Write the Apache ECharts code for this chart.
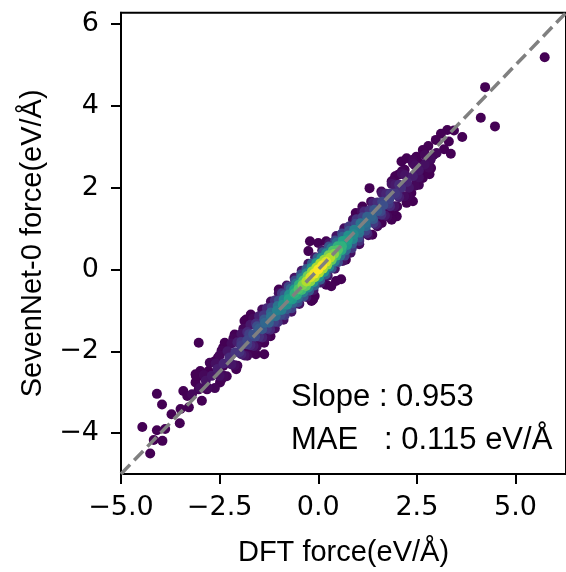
<!DOCTYPE html>
<html><head><meta charset="utf-8">
<script src="https://cdn.jsdelivr.net/npm/echarts@6/dist/echarts.min.js"></script>
<style>html,body{margin:0;padding:0;background:#fff}#c{width:566px;height:572px}</style>
</head><body><div id="c"></div>
<script>
// ---- axis ticks / labels ----
const xTicks = [-5, -2.5, 0, 2.5, 5];
const yTicks = [-4, -2, 0, 2, 4, 6];
const axisMin = -5;
const axisMax = 6.28;
const xName = 'DFT force(eV/Å)';
const yName = 'SevenNet-0 force(eV/Å)';
const slopeText = 'Slope : 0.953';
const maeText = 'MAE   : 0.115 eV/Å';

// ---- points: [DFT force, SevenNet-0 force, relative density] ----
const coreStrand = [
 [-3.2,-3.05,0.02],[-3.0,-2.9,0.03],[-2.85,-2.72,0.05],[-2.7,-2.6,0.06],[-2.55,-2.43,0.08],[-2.4,-2.3,0.1],
 [-2.25,-2.15,0.12],[-2.1,-2.02,0.15],[-1.95,-1.86,0.18],[-1.8,-1.73,0.21],[-1.65,-1.58,0.25],[-1.5,-1.44,0.29],
 [-1.35,-1.3,0.33],[-1.2,-1.15,0.38],[-1.05,-1.0,0.43],[-0.9,-0.86,0.5],[-0.75,-0.72,0.57],[-0.6,-0.58,0.65],
 [-0.5,-0.48,0.72],[-0.4,-0.38,0.8],[-0.3,-0.29,0.88],[-0.2,-0.19,0.94],[-0.1,-0.1,0.98],[0,0,1],
 [0.1,0.1,0.99],[0.2,0.19,0.95],[0.3,0.29,0.89],[0.4,0.38,0.81],[0.5,0.48,0.72],[0.6,0.57,0.64],
 [0.75,0.72,0.55],[0.9,0.86,0.48],[1.05,1.0,0.42],[1.2,1.14,0.37],[1.35,1.29,0.32],[1.5,1.43,0.28],
 [1.65,1.57,0.24],[1.8,1.72,0.2],[1.95,1.86,0.16],[2.1,2.0,0.13],[2.25,2.14,0.1],[2.4,2.28,0.08],
 [2.55,2.42,0.06],[2.7,2.57,0.04],[2.85,2.7,0.03],[3.0,2.85,0.02]
];
const upperNear = [
 [-1.95,-1.77,0.15],[-1.75,-1.58,0.19],[-1.55,-1.39,0.24],[-1.37,-1.22,0.28],[-1.2,-1.05,0.33],[-1.03,-0.89,0.38],
 [-0.88,-0.74,0.44],[-0.74,-0.61,0.5],[-0.61,-0.49,0.56],[-0.49,-0.37,0.63],[-0.38,-0.27,0.7],[-0.27,-0.16,0.77],
 [-0.16,-0.05,0.83],[-0.05,0.05,0.87],[0.05,0.15,0.87],[0.15,0.24,0.84],[0.26,0.35,0.79],[0.37,0.46,0.72],
 [0.49,0.57,0.64],[0.62,0.7,0.57],[0.76,0.83,0.5],[0.91,0.97,0.43],[1.07,1.13,0.37],[1.24,1.29,0.31],
 [1.42,1.46,0.26],[1.62,1.66,0.21],[1.83,1.86,0.16],[2.05,2.07,0.12]
];
const lowerNear = [
 [-2.0,-2.02,0.14],[-1.8,-1.83,0.18],[-1.6,-1.64,0.22],[-1.42,-1.46,0.27],[-1.25,-1.3,0.31],[-1.08,-1.14,0.36],
 [-0.93,-0.99,0.42],[-0.79,-0.86,0.48],[-0.66,-0.73,0.54],[-0.54,-0.62,0.61],[-0.42,-0.5,0.68],[-0.31,-0.4,0.75],
 [-0.2,-0.29,0.82],[-0.09,-0.19,0.86],[0.02,-0.08,0.88],[0.12,0.02,0.86],[0.23,0.12,0.82],[0.34,0.23,0.75],
 [0.46,0.34,0.67],[0.59,0.47,0.6],[0.73,0.6,0.52],[0.88,0.74,0.45],[1.04,0.9,0.39],[1.21,1.06,0.33],
 [1.39,1.23,0.28],[1.58,1.42,0.22],[1.78,1.61,0.17],[2.0,1.82,0.13]
];
const upperInner = [
 [-2.9,-2.58,0.02],[-2.6,-2.3,0.04],[-2.3,-2.0,0.06],[-2.05,-1.78,0.08],[-1.8,-1.53,0.11],[-1.58,-1.32,0.13],
 [-1.38,-1.12,0.16],[-1.18,-0.93,0.2],[-1.0,-0.76,0.24],[-0.85,-0.62,0.28],[-0.7,-0.47,0.33],[-0.56,-0.34,0.38],
 [-0.43,-0.21,0.43],[-0.3,-0.09,0.47],[-0.17,0.04,0.5],[-0.05,0.16,0.52],[0.08,0.28,0.5],[0.2,0.4,0.47],
 [0.33,0.52,0.42],[0.47,0.66,0.36],[0.62,0.8,0.31],[0.78,0.95,0.26],[0.95,1.12,0.22],[1.12,1.28,0.19],
 [1.3,1.45,0.16],[1.5,1.64,0.13],[1.72,1.85,0.1],[1.95,2.07,0.07],[2.2,2.31,0.05],[2.45,2.55,0.03],[2.7,2.8,0.02]
];
const lowerInner = [
 [-2.8,-2.89,0.02],[-2.5,-2.6,0.04],[-2.2,-2.32,0.06],[-1.95,-2.07,0.09],[-1.72,-1.85,0.11],[-1.5,-1.64,0.14],
 [-1.3,-1.45,0.17],[-1.12,-1.28,0.2],[-0.95,-1.11,0.23],[-0.8,-0.97,0.27],[-0.65,-0.82,0.32],[-0.52,-0.7,0.37],
 [-0.38,-0.56,0.42],[-0.25,-0.44,0.47],[-0.12,-0.31,0.5],[0.02,-0.18,0.52],[0.15,-0.06,0.5],[0.28,0.07,0.47],
 [0.42,0.2,0.43],[0.56,0.34,0.38],[0.7,0.47,0.33],[0.86,0.63,0.28],[1.02,0.78,0.24],[1.2,0.95,0.2],
 [1.4,1.14,0.17],[1.6,1.34,0.14],[1.82,1.55,0.11],[2.05,1.77,0.08],[2.3,2.0,0.06],[2.55,2.25,0.04],[2.8,2.49,0.02]
];
const upperMid = [
 [-2.5,-2.1,0.02],[-2.2,-1.81,0.03],[-1.95,-1.57,0.05],[-1.72,-1.35,0.07],[-1.5,-1.14,0.09],[-1.3,-0.95,0.11],
 [-1.1,-0.76,0.14],[-0.92,-0.58,0.17],[-0.75,-0.42,0.2],[-0.59,-0.27,0.23],[-0.44,-0.12,0.26],[-0.3,0.01,0.28],
 [-0.16,0.15,0.29],[-0.02,0.28,0.29],[0.12,0.42,0.28],[0.27,0.56,0.26],[0.43,0.71,0.23],[0.6,0.88,0.2],
 [0.78,1.05,0.17],[0.97,1.23,0.14],[1.17,1.42,0.11],[1.39,1.63,0.09],[1.62,1.86,0.07],[1.86,2.09,0.05],
 [2.12,2.34,0.03],[2.4,2.6,0.02]
];
const lowerMid = [
 [-2.4,-2.6,0.02],[-2.12,-2.34,0.03],[-1.87,-2.1,0.05],[-1.64,-1.87,0.07],[-1.42,-1.66,0.09],[-1.22,-1.47,0.11],
 [-1.03,-1.29,0.14],[-0.85,-1.12,0.17],[-0.68,-0.95,0.2],[-0.52,-0.8,0.23],[-0.37,-0.66,0.26],[-0.23,-0.52,0.28],
 [-0.09,-0.39,0.29],[0.05,-0.25,0.29],[0.19,-0.12,0.28],[0.34,0.03,0.26],[0.5,0.18,0.23],[0.67,0.34,0.2],
 [0.85,0.52,0.17],[1.04,0.7,0.14],[1.24,0.89,0.11],[1.46,1.1,0.09],[1.69,1.32,0.07],[1.93,1.55,0.05],
 [2.18,1.79,0.03],[2.45,2.05,0.02]
];
const upperOuter = [
 [-3.1,-2.6,0],[-2.75,-2.28,0.01],[-2.45,-1.98,0.01],[-2.15,-1.68,0.01],[-1.9,-1.45,0.02],[-1.65,-1.2,0.02],
 [-1.42,-0.98,0.03],[-1.2,-0.78,0.03],[-1.0,-0.58,0.04],[-0.8,-0.39,0.05],[-0.6,-0.2,0.05],[-0.42,-0.03,0.06],
 [-0.25,0.14,0.06],[-0.08,0.3,0.06],[0.1,0.47,0.06],[0.28,0.65,0.05],[0.46,0.82,0.05],[0.66,1.01,0.04],
 [0.88,1.22,0.03],[1.1,1.43,0.03],[1.34,1.66,0.02],[1.6,1.91,0.02],[1.86,2.16,0.01],[2.12,2.4,0.01],
 [2.4,2.68,0.01],[2.65,2.92,0]
];
const lowerOuter = [
 [-2.95,-3.21,0],[-2.62,-2.9,0.01],[-2.32,-2.61,0.01],[-2.05,-2.35,0.01],[-1.8,-2.11,0.02],[-1.56,-1.88,0.02],
 [-1.33,-1.66,0.03],[-1.1,-1.44,0.03],[-0.88,-1.23,0.04],[-0.68,-1.03,0.05],[-0.48,-0.84,0.05],[-0.3,-0.67,0.06],
 [-0.12,-0.5,0.06],[0.06,-0.32,0.06],[0.24,-0.15,0.06],[0.42,0.02,0.05],[0.62,0.21,0.05],[0.82,0.41,0.04],
 [1.04,0.62,0.03],[1.27,0.84,0.03],[1.5,1.06,0.02],[1.75,1.3,0.02],[2.0,1.54,0.01],[2.27,1.8,0.01],
 [2.55,2.07,0.01],[2.82,2.33,0]
];
const sparseHigh = [
 [5.74,5.19,0],[4.23,4.46,0],[4.12,3.71,0],[4.48,3.5,0],[3.65,3.24,0],[3.27,3.41,0],[3.44,3.4,0],
 [3.11,3.32,0],[2.98,3.17,0],[3.31,3.13,0],[3.19,2.94,0],[3.36,2.83,0],[2.79,3.02,0],[2.92,2.8,0],
 [2.84,2.68,0],[2.69,2.85,0],[2.49,2.76,0],[2.4,2.68,0],[2.57,2.6,0],[2.11,2.64,0],[2.24,2.72,0],
 [2.86,2.48,0],[2.69,2.36,0],[2.65,2.24,0],[2.49,2.2,0],[2.19,2.44,0],[2.03,2.32,0],[1.95,2.28,0],
 [1.3,1.99,0],[2.36,1.87,0],[2.4,1.67,0],[2.24,1.63,0],[2.11,1.79,0],[1.86,1.26,0],[1.99,1.3,0],
 [1.9,1.42,0],[1.61,1.14,0],[1.49,1.3,0],[1.12,1.54,0],[0.95,1.38,0],[1.37,0.85,0],[1.53,1.14,0],
 [1.86,1.22,0],[1.7,1.42,0],[1.03,0.77,0],[1.16,0.89,0]
];
const sparseMid = [
 [-0.21,0.69,0],[0,0.65,0],[0.2,0.69,0],[-0.25,0.45,0],[0.45,-0.28,0],[0.58,-0.24,0],[0.2,-0.37,0],
 [0.33,-0.41,0],[-0.09,-0.65,0],[-0.13,-0.73,0],[0.7,0.24,0],[-1.0,-0.49,0],[-0.17,-0.77,0]
];
const sparseLow = [
 [-1.83,-1.22,0],[-1.71,-1.14,0],[-1.87,-1.26,0],[-1.37,-1.79,0],[-1.58,-2.07,0],[-1.37,-2.07,0],
 [-1.54,-1.79,0],[-1.21,-1.63,0],[-1.79,-2.03,0],[-1.62,-1.95,0],[-1.71,-1.1,0],[-2.12,-1.59,0],
 [-2.04,-1.71,0],[-2.08,-2.44,0],[-2.41,-1.91,0],[-2.28,-2.03,0],[-2.37,-1.79,0],[-2.62,-2.24,0],
 [-2.54,-2.15,0],[-2.41,-2.36,0],[-2.49,-2.76,0],[-2.45,-2.68,0],[-2.78,-2.48,0],[-3.11,-2.56,0],
 [-2.99,-2.48,0],[-3.08,-2.64,0],[-3.03,-2.93,0],[-3.11,-2.76,0],[-2.82,-2.93,0],[-3.03,-1.79,0],
 [-3.42,-2.97,0],[-3.32,-3.09,0],[-3.28,-3.37,0],[-3.49,-3.41,0],[-3.51,-3.76,0],[-3.72,-3.54,0],
 [-3.88,-3.9,0],[-3.95,-4.19,0],[-4.09,-3.93,0],[-4.17,-4.17,0],[-3.96,-3.3,0],[-4.09,-3.04,0],
 [-4.26,-4.5,0],[-4.46,-3.85,0]
];
const refLine = [[axisMin, axisMin], [axisMax, axisMax]];

const viridis = ['#440154','#482878','#3e4989','#31688e','#26828e','#1f9e89','#35b779','#6ece58','#b5de2b','#fde725'];

const points = [].concat(sparseLow, sparseMid, sparseHigh, lowerOuter, upperOuter, lowerMid, upperMid,
  lowerInner, upperInner, lowerNear, upperNear, coreStrand).slice().sort((a, b) => a[2] - b[2]);

const fmtMinus = s => s.replace('-', '\u2212');

const chart = echarts.init(document.getElementById('c'), null, {renderer: 'canvas'});
chart.setOption({
  animation: false,
  backgroundColor: '#fff',
  grid: {left: 121, top: 12.7, bottom: 96.3, right: -8, show: true, borderColor: '#000', borderWidth: 2, backgroundColor: 'transparent'},
  xAxis: {
    type: 'value', min: axisMin, max: axisMax,
    name: xName, nameLocation: 'middle', nameGap: 64,
    nameTextStyle: {fontFamily: 'Liberation Sans', fontSize: 29, color: '#000'},
    axisLine: {show: true, onZero: false, lineStyle: {color: '#000', width: 2}},
    axisTick: {show: true, inside: false, length: 10, lineStyle: {color: '#000', width: 2}, customValues: xTicks},
    axisLabel: {show: true, margin: 20, fontFamily: 'DejaVu Sans', fontSize: 27, color: '#000',
      customValues: xTicks, formatter: v => fmtMinus(Number(v).toFixed(1))},
    splitLine: {show: false}
  },
  yAxis: {
    type: 'value', min: axisMin, max: axisMax,
    name: yName, nameLocation: 'middle', nameGap: 74, nameRotate: 90,
    nameTextStyle: {fontFamily: 'Liberation Sans', fontSize: 29, color: '#000'},
    axisLine: {show: true, onZero: false, lineStyle: {color: '#000', width: 2}},
    axisTick: {show: true, inside: false, length: 10, lineStyle: {color: '#000', width: 2}, customValues: yTicks},
    axisLabel: {show: true, margin: 22, fontFamily: 'DejaVu Sans', fontSize: 27, color: '#000',
      customValues: yTicks, formatter: v => fmtMinus(String(v))},
    splitLine: {show: false}
  },
  visualMap: {show: false, type: 'continuous', min: 0, max: 1, dimension: 2, seriesIndex: 0, inRange: {color: viridis}},
  series: [
    {type: 'scatter', data: points, symbolSize: 10, itemStyle: {opacity: 1}, silent: true, z: 2},
    {type: 'line', data: refLine, symbol: 'none', silent: true, z: 5, clip: true,
      lineStyle: {color: '#808080', width: 3.5, type: [13, 6]}}
  ],
  graphic: [
    {type: 'text', left: 291, top: 382, style: {text: slopeText, font: '31px "Liberation Sans"', fill: '#000'}},
    {type: 'text', left: 291, top: 425, style: {text: maeText, font: '31px "Liberation Sans"', fill: '#000'}}
  ]
});
</script>
</body></html>
